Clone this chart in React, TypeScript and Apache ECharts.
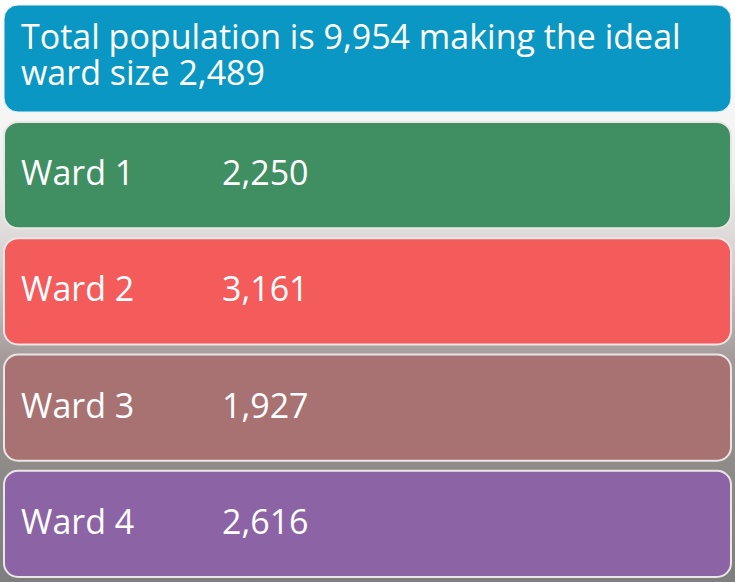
import React, { useEffect, useRef } from "react";
import * as echarts from "echarts";

const totalPopulation = "9,954";
const idealWardSize = "2,489";
const headerLines = [
  `Total population is ${totalPopulation} making the ideal`,
  `ward size ${idealWardSize}`,
];
const wards = ["Ward 1", "Ward 2", "Ward 3", "Ward 4"];
const populations = [2250, 3161, 1927, 2616];
const wardColors = ["#3f8f62", "#f45b5b", "#a97272", "#8c64a5"];

const fmt = (v: number) => v.toLocaleString("en-US");

export default function App() {
  const ref = useRef<HTMLDivElement>(null);
  useEffect(() => {
    if (!ref.current) return;
    const chart = echarts.init(ref.current, null, { renderer: "svg" });
    const font = "'Open Sans', 'Noto Sans', sans-serif";
    chart.setOption({
      animation: false,
      backgroundColor: {
        type: "linear",
        x: 0, y: 0, x2: 0, y2: 1,
        colorStops: [
          { offset: 0, color: "#ffffff" },
          { offset: 0.3, color: "#f0f0f0" },
          { offset: 0.45, color: "#d6d0d0" },
          { offset: 0.62, color: "#a39999" },
          { offset: 0.82, color: "#8c8a86" },
          { offset: 1, color: "#7e7e7e" },
        ],
      },
      graphic: [
        {
          type: "rect",
          shape: { x: 4, y: 5, width: 727, height: 107, r: 14 },
          style: { fill: "#0a97c3", stroke: "#e8f4f8", lineWidth: 1 },
        },
        ...headerLines.map((line, i) => ({
          type: "text",
          x: 21,
          y: 36 + i * 36,
          style: {
            text: line,
            fill: "#ffffff",
            font: `400 34px ${font}`,
            verticalAlign: "middle",
          },
        })),
      ],
      grid: { left: 4, right: 4, top: 117, bottom: 0 },
      xAxis: { type: "value", show: false, min: 0, max: 1 },
      yAxis: {
        type: "category",
        data: wards,
        inverse: true,
        show: false,
      },
      series: [
        {
          type: "custom",
          data: populations.map((v, i) => [i, v]),
          encode: { y: 0 },
          renderItem: (params: any, api: any) => {
            const idx = api.value(0);
            const center = api.coord([0, idx]);
            const band = api.size([0, 1])[1];
            const h = band - 10;
            const cs = params.coordSys;
            const top = center[1] - h / 2;
            return {
              type: "group",
              children: [
                {
                  type: "rect",
                  shape: { x: cs.x, y: top, width: cs.width, height: h, r: 14 },
                  style: { fill: wardColors[idx], stroke: "#ebe6e6", lineWidth: 2 },
                },
                {
                  type: "text",
                  x: cs.x + 17,
                  y: center[1] - 3,
                  style: {
                    text: wards[idx],
                    fill: "#ffffff",
                    font: `400 34px ${font}`,
                    verticalAlign: "middle",
                  },
                },
                {
                  type: "text",
                  x: cs.x + 218,
                  y: center[1] - 3,
                  style: {
                    text: fmt(api.value(1)),
                    fill: "#ffffff",
                    font: `400 34px ${font}`,
                    verticalAlign: "middle",
                  },
                },
              ],
            };
          },
        },
      ],
    });
    return () => chart.dispose();
  }, []);
  return (
    <div
      ref={ref}
      style={{ position: "fixed", left: 0, top: 0, width: 735, height: 582 }}
    />
  );
}
